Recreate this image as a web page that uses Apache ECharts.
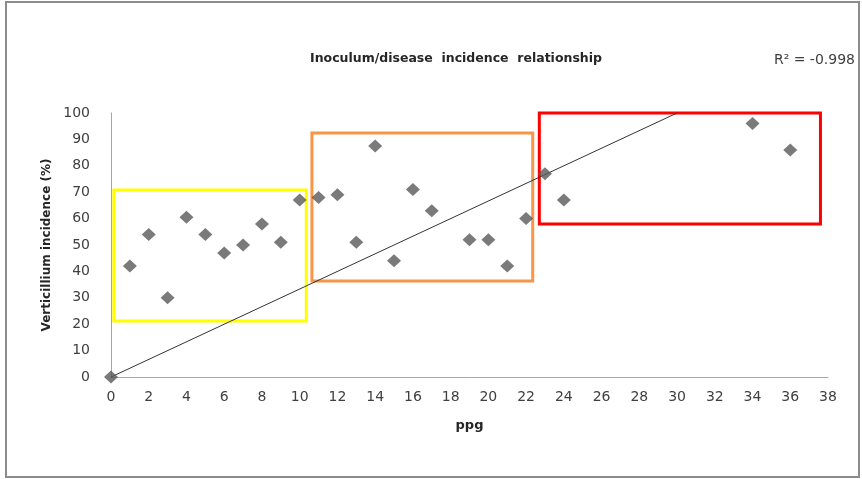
<!DOCTYPE html>
<html>
<head>
<meta charset="utf-8">
<script src="https://cdn.jsdelivr.net/npm/echarts@6/dist/echarts.min.js"></script>
<style>
html, body { margin: 0; padding: 0; background: #fff; }
#chart { width: 862px; height: 479px; }
</style>
</head>
<body>
<div id="chart"></div>
<script>
var ppg = [0, 1, 2, 3, 4, 5, 6, 7, 8, 9, 10, 11, 12, 13, 14, 15, 16, 17, 19, 20, 21, 22, 23, 24, 34, 36];
var incidence = [0, 42, 54, 30, 60.5, 54, 47, 50, 58, 51, 67, 68, 69, 51, 87.5, 44, 71, 63, 52, 52, 42, 60, 77, 67, 96, 86];

// trend line end points
var trendX = [0, 30];
var trendY = [0, 100];

// highlight boxes: [xFrom, xTo, yFrom, yTo, colour]
var boxes = [
    [0.15, 10.35, 21.2, 70.8, '#ffff00'],
    [10.65, 22.35, 36.4, 92.4, '#f79646'],
    [22.7, 37.6, 58, 100, '#ff0000']
];

var dom = document.getElementById('chart');
var myChart = echarts.init(dom);

var points = ppg.map(function (x, i) { return [x, incidence[i]]; });
var trend = trendX.map(function (x, i) { return [x, trendY[i]]; });

var boxSeries = boxes.map(function (b) {
    return {
        type: 'line',
        data: [],
        silent: true,
        markArea: {
            silent: true,
            itemStyle: { color: 'rgba(0,0,0,0)', borderColor: b[4], borderWidth: 3 },
            data: [[{ coord: [b[0], b[3]] }, { coord: [b[1], b[2]] }]]
        }
    };
});

var option = {
    animation: false,
    textStyle: { fontFamily: 'DejaVu Sans' },
    title: {
        text: 'Inoculum/disease  incidence  relationship',
        left: 451,
        textAlign: 'center',
        top: 47,
        textStyle: { fontSize: 12.5, fontWeight: 'bold', color: '#262626', fontFamily: 'DejaVu Sans' }
    },
    graphic: [
        {
            type: 'rect',
            shape: { x: 6, y: 2, width: 853, height: 475 },
            style: { fill: 'none', stroke: '#8c8c8c', lineWidth: 2 },
            silent: true
        },
        {
            type: 'text',
            right: 7,
            top: 53,
            style: { text: 'R² = -0.998', font: '14px "DejaVu Sans"', fill: '#404040' }
        }
    ],
    grid: { left: 111, right: 34, top: 113, bottom: 102 },
    xAxis: {
        type: 'value',
        min: 0,
        max: 38,
        interval: 2,
        name: 'ppg',
        nameLocation: 'middle',
        nameGap: 42,
        nameTextStyle: { fontSize: 13, fontWeight: 'bold', color: '#262626' },
        axisLine: { show: true, lineStyle: { color: '#a6a6a6', width: 1 } },
        axisTick: { show: false },
        splitLine: { show: false },
        axisLabel: { fontSize: 14, color: '#404040', margin: 13 }
    },
    yAxis: {
        type: 'value',
        min: 0,
        max: 100,
        interval: 10,
        name: 'Verticillium incidence (%)',
        nameLocation: 'middle',
        nameGap: 58,
        nameTextStyle: { fontSize: 12, fontWeight: 'bold', color: '#262626' },
        axisLine: { show: true, lineStyle: { color: '#a6a6a6', width: 1 } },
        axisTick: { show: false },
        splitLine: { show: false },
        axisLabel: { fontSize: 14, color: '#404040', margin: 21 }
    },
    series: [
        {
            name: 'trend',
            type: 'line',
            data: trend,
            symbol: 'none',
            silent: true,
            lineStyle: { color: '#333', width: 1 },
            z: 2
        },
        {
            name: 'incidence',
            type: 'scatter',
            data: points,
            symbol: 'diamond',
            symbolSize: [14, 13],
            itemStyle: { color: '#595959' },
            z: 3
        }
    ].concat(boxSeries)
};

myChart.setOption(option, true);
</script>
</body>
</html>
